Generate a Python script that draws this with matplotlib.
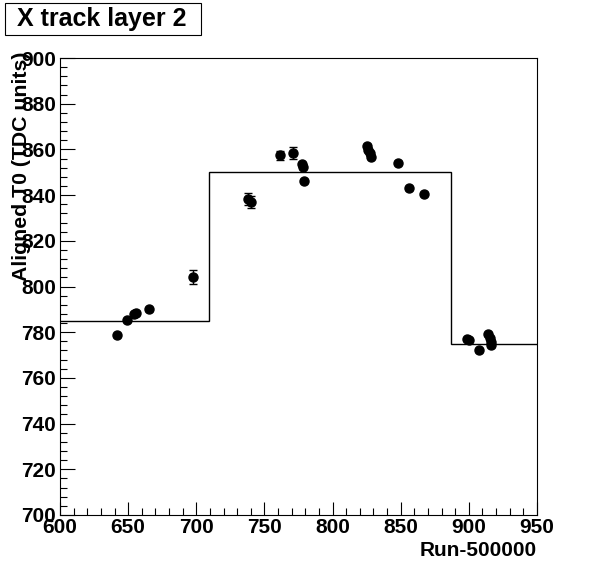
import numpy as np
import matplotlib
matplotlib.use("Agg")
import matplotlib.pyplot as plt
from matplotlib.ticker import MultipleLocator
from matplotlib.patches import Rectangle

plt.rcParams['font.family'] = ['Liberation Sans', 'DejaVu Sans']
plt.rcParams['font.weight'] = 'bold'

# run numbers (Run-500000) and aligned T0 values
runs = [641.6, 649.4, 654.3, 655.5, 665.5, 697.6,
        738.2, 740.1, 761.4, 771.2, 777.6, 778.5, 779.3,
        825.0, 826.2, 827.5, 828.2, 848.2, 856.3, 867.1,
        898.4, 900.1, 907.7, 914.3, 915.5, 916.2, 916.2]
t0 = [778.6, 785.2, 787.8, 788.5, 790.0, 804.2,
      838.3, 836.9, 857.5, 858.6, 853.4, 852.3, 846.3,
      861.6, 859.7, 858.3, 856.8, 854.2, 842.9, 840.7,
      776.9, 776.5, 772.0, 779.1, 777.3, 775.9, 774.3]
t0_err = [0.6, 0.6, 0.6, 0.6, 0.6, 3.0,
          2.6, 2.6, 2.0, 2.6, 0.8, 0.8, 0.6,
          0.6, 0.6, 0.6, 0.6, 0.6, 0.6, 0.6,
          0.6, 0.6, 0.6, 0.6, 0.6, 0.6, 0.6]

# constant fit levels per period
edges = [600, 709, 887, 950]
levels = [785, 850, 775]

fig = plt.figure(figsize=(5.96, 5.72), dpi=100)
ax = fig.add_axes([60/596, 57/572, 477/596, 457/572])

ax.stairs(levels, edges, baseline=None, color='black', linewidth=1.0)
ax.errorbar(runs, t0, yerr=t0_err, fmt='o', color='black', ms=6.5,
            elinewidth=1.0, capsize=3, capthick=1.0)

ax.set_xlim(600, 950)
ax.set_ylim(700, 900)
ax.xaxis.set_major_locator(MultipleLocator(50))
ax.xaxis.set_minor_locator(MultipleLocator(10))
ax.yaxis.set_major_locator(MultipleLocator(20))
ax.yaxis.set_minor_locator(MultipleLocator(4))
ax.tick_params(which='both', direction='in', top=False, right=False,
               width=0.8, labelsize=15)
ax.tick_params(axis='y', which='major', length=10.5, pad=3)
ax.tick_params(axis='y', which='minor', length=5)
ax.tick_params(axis='x', which='major', length=9.5, pad=2)
ax.tick_params(axis='x', which='minor', length=5)
for lab in ax.get_xticklabels() + ax.get_yticklabels():
    lab.set_fontweight('bold')
for s in ax.spines.values():
    s.set_linewidth(0.8)

fig.text(537/596, 1 - 551/572, 'Run-500000', ha='right', va='center',
         fontsize=15, fontweight='bold')
fig.text(22/596, 1 - 52/572, 'Aligned T0 (TDC units)', rotation=90,
         ha='center', va='top', fontsize=15.3, fontweight='bold')

fig.patches.append(Rectangle((5/596, 1 - 35/572), 196/596, 32/572,
                             transform=fig.transFigure, facecolor='white',
                             edgecolor='black', linewidth=0.8))
fig.text(102/596, 1 - 19/572, 'X track layer 2', ha='center', va='center',
         fontsize=18, fontweight='bold')

fig.savefig('out.png', dpi=100)
